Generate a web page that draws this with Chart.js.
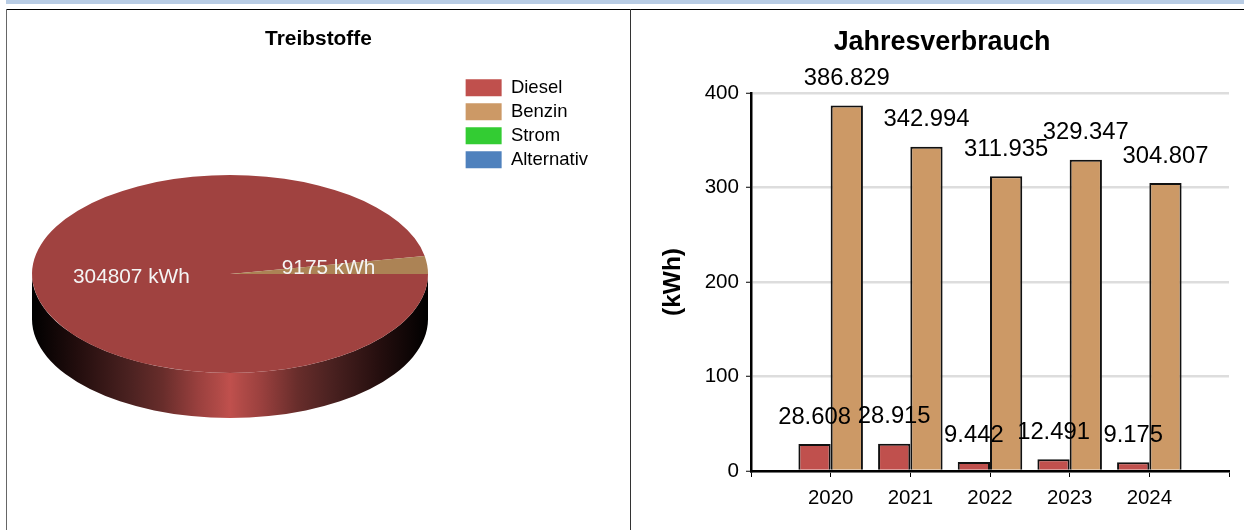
<!DOCTYPE html>
<html lang="de">
<head>
    <meta charset="UTF-8">
    <title>Treibstoffe und Jahresverbrauch</title>
    <script src="https://cdn.jsdelivr.net/npm/chart.js"></script>
    <style>
        body { margin: 0; width: 1244px; height: 530px; background: #fff; overflow: hidden; position: relative; }
        .band { position: absolute; left: 6px; top: 0; width: 1238px; height: 4px; background: #b8cce4; }
        .panel-top { position: absolute; left: 6px; top: 9px; width: 1238px; height: 1px; background: #000; }
        .panel-left { position: absolute; left: 6px; top: 9px; width: 1px; height: 521px; background: #666; }
        .divider { position: absolute; left: 630px; top: 9px; width: 1px; height: 521px; background: #333; }
        .box { position: absolute; }
        #pieBox { left: 7px; top: 10px; width: 623px; height: 520px; }
        #barBox { left: 640px; top: 10px; width: 604px; height: 520px; }
    </style>
</head>
<body>
    <div class="band"></div>
    <div class="panel-top"></div>
    <div class="panel-left"></div>
    <div class="divider"></div>
    <div class="box" id="pieBox"><canvas id="pieChart"></canvas></div>
    <div class="box" id="barBox"><canvas id="barChart"></canvas></div>

    <script>
        const fontName = "'Liberation Sans', Arial, sans-serif";

        // Kuchen: Treibstoffe
        const fuels = ["Diesel", "Benzin", "Strom", "Alternativ"];
        const fuelKwh = [304807, 9175, 0, 0];
        const legendColors = ["#c0504d", "#cc9966", "#33cc33", "#4f81bd"];
        const topColors = ["#a04240", "#ac8355", "#2aa82a", "#416a9c"];

        // Balken: Jahresverbrauch
        const years = ["", "2020", "2021", "2022", "2023", "2024", ""];
        const diesel = [null, 28.608, 28.915, 9.442, 12.491, 9.175, null];
        const benzin = [null, 386.829, 342.994, 311.935, 329.347, 304.807, null];

        // 3D-Optik: Kreis wird zur Ellipse gestaucht, darunter die Seitenwand
        const pieCentre = { x: 223, y: 264 };
        const squash = 0.5;
        const wallDepth = 45;

        const pie3d = {
            id: "pie3d",
            beforeDatasetsDraw(chart) {
                const ctx = chart.ctx;
                const arc = chart.getDatasetMeta(0).data[0];
                const r = arc.outerRadius;
                const grad = ctx.createLinearGradient(pieCentre.x - r, 0, pieCentre.x + r, 0);
                const stops = [[0, "#000000"], [0.12, "#240e0e"], [0.25, "#4c2221"], [0.33, "#682d2b"], [0.42, "#9a403e"], [0.47, "#b04a47"]];
                stops.forEach(([p, c]) => {
                    grad.addColorStop(p, c);
                    grad.addColorStop(1 - p, c);
                });
                grad.addColorStop(0.5, "#c0504d");
                ctx.save();
                ctx.fillStyle = grad;
                ctx.beginPath();
                ctx.ellipse(pieCentre.x, pieCentre.y, r, r * squash, 0, 0, Math.PI);
                ctx.lineTo(pieCentre.x - r, pieCentre.y + wallDepth);
                ctx.ellipse(pieCentre.x, pieCentre.y + wallDepth, r, r * squash, 0, Math.PI, 0, true);
                ctx.closePath();
                ctx.fill();
                ctx.restore();

                ctx.save();
                ctx.translate(pieCentre.x, pieCentre.y);
                ctx.scale(1, squash);
                ctx.translate(-arc.x, -arc.y);
            },
            afterDatasetsDraw(chart) {
                const ctx = chart.ctx;
                ctx.restore();
                ctx.save();
                ctx.font = "20.8px " + fontName;
                ctx.fillStyle = "#f4f4f4";
                ctx.textAlign = "center";
                ctx.textBaseline = "middle";
                chart.getDatasetMeta(0).data.forEach((arc, i) => {
                    if (!fuelKwh[i]) return;
                    const mid = (arc.startAngle + arc.endAngle) / 2;
                    const x = pieCentre.x + Math.cos(mid) * arc.outerRadius * 0.5;
                    const y = pieCentre.y + Math.sin(mid) * arc.outerRadius * 0.5 * squash;
                    ctx.fillText(fuelKwh[i] + " kWh", x, y - 1);
                });
                ctx.restore();
            }
        };

        new Chart(document.getElementById("pieChart"), {
            type: "pie",
            data: {
                labels: fuels,
                datasets: [{
                    data: fuelKwh,
                    backgroundColor: topColors,
                    borderWidth: 0,
                    radius: 198,
                    clip: false
                }]
            },
            plugins: [pie3d],
            options: {
                responsive: true,
                maintainAspectRatio: false,
                animation: false,
                rotation: 90,
                layout: { padding: { left: 32, right: 32 } },
                plugins: {
                    tooltip: { enabled: false },
                    title: {
                        display: true,
                        text: "Treibstoffe",
                        color: "#000",
                        font: { family: fontName, size: 20.9, weight: "bold" },
                        padding: { top: 17, bottom: 21 }
                    },
                    legend: {
                        position: "right",
                        align: "start",
                        fullSize: false,
                        labels: {
                            boxWidth: 36,
                            boxHeight: 17,
                            padding: 5.5,
                            color: "#000",
                            font: { family: fontName, size: 18.5 },
                            generateLabels: () => fuels.map((name, i) => ({
                                text: name,
                                fillStyle: legendColors[i],
                                strokeStyle: legendColors[i],
                                lineWidth: 0,
                                index: i
                            }))
                        }
                    }
                }
            }
        });

        // Wertebeschriftung ueber den Balken
        const barValues = {
            id: "barValues",
            afterDatasetsDraw(chart) {
                const ctx = chart.ctx;
                ctx.save();
                ctx.font = "23.8px " + fontName;
                ctx.fillStyle = "#000";
                ctx.textAlign = "center";
                ctx.textBaseline = "middle";
                chart.data.datasets.forEach((ds, d) => {
                    chart.getDatasetMeta(d).data.forEach((bar, i) => {
                        if (ds.data[i] === null) return;
                        ctx.fillText(ds.data[i].toFixed(3), bar.x, bar.y - 27);
                    });
                });
                ctx.restore();
            }
        };

        new Chart(document.getElementById("barChart"), {
            type: "bar",
            data: {
                labels: years,
                datasets: [
                    { label: "Diesel", data: diesel, backgroundColor: "#c0504d", borderColor: "#111", borderWidth: 2, categoryPercentage: 0.81, barPercentage: 1 },
                    { label: "Benzin", data: benzin, backgroundColor: "#cc9966", borderColor: "#111", borderWidth: 2, categoryPercentage: 0.81, barPercentage: 1 }
                ]
            },
            plugins: [barValues],
            options: {
                responsive: true,
                maintainAspectRatio: false,
                animation: false,
                layout: { padding: { left: 15, right: 15 } },
                plugins: {
                    legend: { display: false },
                    tooltip: { enabled: false },
                    title: {
                        display: true,
                        text: "Jahresverbrauch",
                        color: "#000",
                        font: { family: fontName, size: 26.9, weight: "bold" },
                        padding: { top: 16, bottom: 34.7 }
                    }
                },
                scales: {
                    x: {
                        offset: false,
                        afterFit: (scale) => { scale.height = 59; },
                        grid: { offset: false, drawOnChartArea: false, drawTicks: true, tickLength: 6, tickColor: "#000", tickWidth: 1 },
                        border: { color: "#000", width: 2.5, z: 1 },
                        ticks: { color: "#000", font: { family: fontName, size: 20.4 }, padding: 9, maxRotation: 0, autoSkip: false }
                    },
                    y: {
                        min: 0,
                        max: 400,
                        afterFit: (scale) => { scale.width = 96; },
                        grid: { color: "#dddddd", lineWidth: 2.5, tickColor: "#000", tickWidth: 1, tickLength: 5 },
                        border: { color: "#000", width: 2.5, z: 1 },
                        ticks: { stepSize: 100, color: "#000", font: { family: fontName, size: 20.6 }, padding: 7 },
                        title: {
                            display: true,
                            text: "(kWh)",
                            color: "#000",
                            font: { family: fontName, size: 24.5, weight: "bold" },
                            padding: { top: 4, bottom: 0 }
                        }
                    }
                }
            }
        });
    </script>
</body>
</html>
